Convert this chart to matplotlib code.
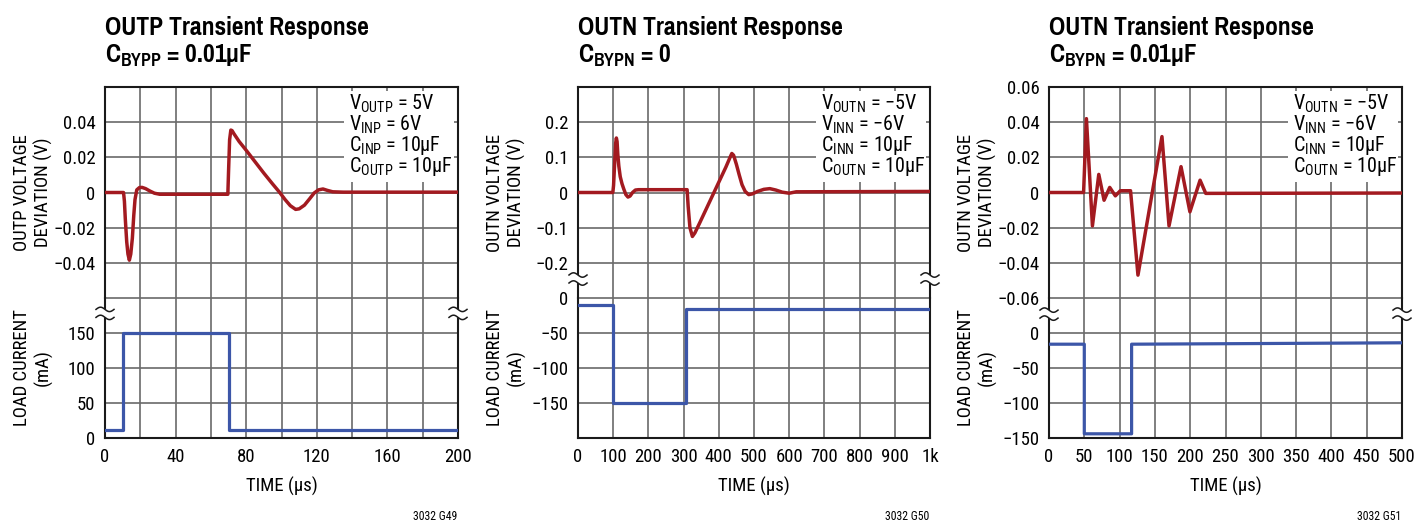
import numpy as np
import matplotlib.pyplot as plt

W, H = 1419, 521

plt.rcParams['font.family'] = ['Roboto Condensed', 'DejaVu Sans']
plt.rcParams['mathtext.fontset'] = 'custom'
plt.rcParams['mathtext.rm'] = 'Roboto Condensed'
plt.rcParams['mathtext.bf'] = 'Pragati Narrow:bold'
TITLE_FONT = ['Pragati Narrow', 'Roboto Condensed', 'DejaVu Sans']

RED = '#a31a20'
BLUE = '#3c56a8'
GRID = '#6a6a6a'
FRAME = '#1a1a1a'

# --- OUTP, CBYPP = 0.01uF (time in us, deviation in V, load in mA) ---
t1_v = [0, 10.5, 11, 11.5, 12.3, 13, 13.8, 14.6, 15.5, 16.3, 17, 18, 19.5, 21, 23, 25.5, 28,
        31, 40, 69.6, 70, 70.6, 71.3, 72, 73, 76, 80, 85, 90, 95, 99, 102, 105, 108, 110,
        113, 116, 118.5, 121, 123.5, 126, 129, 135, 200]
v1 = [0, 0, -0.005, -0.015, -0.028, -0.035, -0.0385, -0.035, -0.026, -0.013, -0.004, 0.0015,
      0.0028, 0.0029, 0.0022, 0.0008, -0.0004, -0.001, -0.001, -0.001, 0.012, 0.030, 0.0355,
      0.0352, 0.0335, 0.029, 0.024, 0.0175, 0.011, 0.0048, 0.0, -0.004, -0.0075, -0.0096,
      -0.0093, -0.0072, -0.0035, -0.0003, 0.0015, 0.002, 0.0012, 0.0004, 0.0002, 0.0002]
t1_i = [0, 10, 10, 70, 70, 200]
i1 = [12, 12, 150, 150, 12, 12]

# --- OUTN, CBYPN = 0 ---
t2_v = [0, 99, 101, 104, 107, 109, 111, 113, 116, 120, 125, 130, 136, 142, 148, 155, 163, 172,
        310, 313, 318, 325, 332, 345, 360, 375, 390, 405, 420, 432, 437, 442, 450, 458, 466,
        475, 485, 495, 510, 528, 545, 562, 580, 600, 620, 1000]
v2 = [0, 0, 0.02, 0.08, 0.14, 0.155, 0.145, 0.11, 0.075, 0.045, 0.025, 0.01, -0.006, -0.013,
      -0.01, 0.0, 0.007, 0.008, 0.008, -0.04, -0.1, -0.125, -0.115, -0.088, -0.056, -0.024,
      0.008, 0.040, 0.072, 0.100, 0.111, 0.106, 0.08, 0.05, 0.022, 0.003, -0.006, -0.004,
      0.003, 0.009, 0.011, 0.007, 0.001, -0.002, 0.002, 0.003]
t2_i = [0, 100, 100, 308, 308, 1000]
i2 = [-10, -10, -150, -150, -15, -15]

# --- OUTN, CBYPN = 0.01uF ---
t3_v = [0, 49, 53, 61.5, 70.5, 78, 86, 94, 101, 115.5, 126, 160, 170, 187, 199.6, 214, 222, 500]
v3 = [0, 0, 0.042, -0.019, 0.0103, -0.0044, 0.0029, -0.0019, 0.001, 0.001, -0.047, 0.0318,
      -0.019, 0.0147, -0.011, 0.007, -0.0005, -0.0003]
t3_i = [0, 50, 50, 117, 117, 500]
i3 = [-16, -16, -144, -144, -16, -14]

titles = ['OUTP Transient Response', 'OUTN Transient Response', 'OUTN Transient Response']
subtitles = [r'C$_{\mathbf{BYPP}}$ = 0.01µF', r'C$_{\mathbf{BYPN}}$ = 0', r'C$_{\mathbf{BYPN}}$ = 0.01µF']
v_labels = ['OUTP VOLTAGE\nDEVIATION (V)', 'OUTN VOLTAGE\nDEVIATION (V)', 'OUTN VOLTAGE\nDEVIATION (V)']
codes = ['3032 G49', '3032 G50', '3032 G51']

cond_p = [r'V$_{\mathrm{OUTP}}$ = 5V', r'V$_{\mathrm{INP}}$ = 6V',
          r'C$_{\mathrm{INP}}$ = 10µF', r'C$_{\mathrm{OUTP}}$ = 10µF']
cond_n = [r'V$_{\mathrm{OUTN}}$ = −5V', r'V$_{\mathrm{INN}}$ = −6V',
          r'C$_{\mathrm{INN}}$ = 10µF', r'C$_{\mathrm{OUTN}}$ = 10µF']

x_ticks = [np.arange(0, 201, 20), np.arange(0, 1001, 100), np.arange(0, 501, 50)]
x_ticklabels = [['0', '', '40', '', '80', '', '120', '', '160', '', '200'],
                ['0', '100', '200', '300', '400', '500', '600', '700', '800', '900', '1k'],
                ['0', '50', '100', '150', '200', '250', '300', '350', '400', '450', '500']]

v_ticks = [[-0.06, -0.04, -0.02, 0, 0.02, 0.04, 0.06],
           [-0.3, -0.2, -0.1, 0, 0.1, 0.2, 0.3],
           [-0.06, -0.04, -0.02, 0, 0.02, 0.04, 0.06]]
v_ticklabels = [['', '−0.04', '−0.02', '0', '0.02', '0.04', ''],
                ['', '−0.2', '−0.1', '0', '0.1', '0.2', ''],
                ['−0.06', '−0.04', '−0.02', '0', '0.02', '0.04', '0.06']]
i_ticks = [[0, 50, 100, 150, 200],
           [-200, -150, -100, -50, 0],
           [-150, -100, -50, 0, 50]]
i_ticklabels = [['0', '50', '100', '150', ''],
                ['', '−150', '−100', '−50', '0'],
                ['−150', '−100', '−50', '0', '']]

# where the axis break sits: (which axes, value on that axes)
breaks = [('i', 178), ('v', -0.246), ('i', 27)]

panels = [
    (t1_v, v1, t1_i, i1, cond_p),
    (t2_v, v2, t2_i, i2, cond_n),
    (t3_v, v3, t3_i, i3, cond_n),
]
lefts = [105, 578, 1049]
widths = [353, 352, 353]
TOP, SPLIT, BOTTOM = 87, 298, 438


def px_axes(fig, left, top, width, height):
    return fig.add_axes([left / W, 1 - (top + height) / H, width / W, height / H])


def style(ax, xt, yt, ytl):
    ax.set_axisbelow(True)
    ax.grid(True, color=GRID, lw=1.2)
    ax.tick_params(length=0, labelsize=13.5, pad=7)
    ax.set_xticks(xt)
    ax.set_yticks(yt, ytl)
    ax.set_xlim(xt[0], xt[-1])
    ax.set_ylim(yt[0], yt[-1])
    for s in ax.spines.values():
        s.set_color(FRAME)
        s.set_linewidth(1.5)


def break_marks(ax, yval):
    # little "~ ~" marks cut into both side frames
    y0, y1 = ax.get_ylim()
    bb = ax.get_position()
    wpx, hpx = bb.width * W, bb.height * H
    yc = (yval - y0) / (y1 - y0)
    xs = np.linspace(-9, 9, 30)
    for xe in (0, 1):
        ax.plot([xe, xe], [yc - 4 / hpx, yc + 4 / hpx], color='white', lw=3,
                transform=ax.transAxes, clip_on=False, zorder=5, solid_capstyle='butt')
        for dy in (-4, 4):
            ys = -2.2 * np.sin(np.pi * xs / 9) + dy
            ax.plot(xe + xs / wpx, yc + ys / hpx, color=FRAME, lw=1.1,
                    transform=ax.transAxes, clip_on=False, zorder=6)


fig = plt.figure(figsize=(W / 100, H / 100), dpi=100)

for k, (tv, vv, ti, ii, cond) in enumerate(panels):
    left, width = lefts[k], widths[k]
    axv = px_axes(fig, left, TOP, width, SPLIT - TOP)
    axi = px_axes(fig, left, SPLIT, width, BOTTOM - SPLIT)

    style(axv, x_ticks[k], v_ticks[k], v_ticklabels[k])
    style(axi, x_ticks[k], i_ticks[k], i_ticklabels[k])
    axv.tick_params(labelbottom=False)
    axv.spines['bottom'].set_visible(False)
    axi.spines['top'].set_visible(False)
    axi.set_xticklabels(x_ticklabels[k])

    axv.plot(tv, vv, color=RED, lw=2.5, solid_joinstyle='round', zorder=3)
    axi.plot(ti, ii, color=BLUE, lw=2.3, zorder=3)

    # condition block on a white patch
    axv.add_patch(plt.Rectangle((0.677, 0.55), 0.313, 0.43, transform=axv.transAxes,
                                facecolor='white', edgecolor='none', zorder=1))
    for j, line in enumerate(cond):
        axv.text(0.69, 0.891 - 0.098 * j, line, transform=axv.transAxes, fontsize=14.5,
                 va='baseline', ha='left', zorder=4)

    axv.set_ylabel(v_labels[k], fontsize=13.5, linespacing=1.15)
    axi.set_ylabel('LOAD CURRENT\n(mA)', fontsize=13.5, linespacing=1.15)
    axv.yaxis.set_label_coords(-0.148, 0.5)
    axi.yaxis.set_label_coords(-0.148, 0.5)
    axi.set_xlabel('TIME (µs)', fontsize=13.5, labelpad=8)

    which, val = breaks[k]
    break_marks(axv if which == 'v' else axi, val)

    fig.text(left / W, 1 - 35 / H, titles[k], fontsize=20, fontweight='bold',
             family=TITLE_FONT, va='baseline')
    fig.text(left / W, 1 - 62 / H, subtitles[k], fontsize=20, fontweight='bold',
             family=TITLE_FONT, va='baseline')
    fig.text((left + width - 1) / W, 1 - 517 / H, codes[k], fontsize=8.5, ha='right', va='center')

fig.savefig('out.png', dpi=100)
